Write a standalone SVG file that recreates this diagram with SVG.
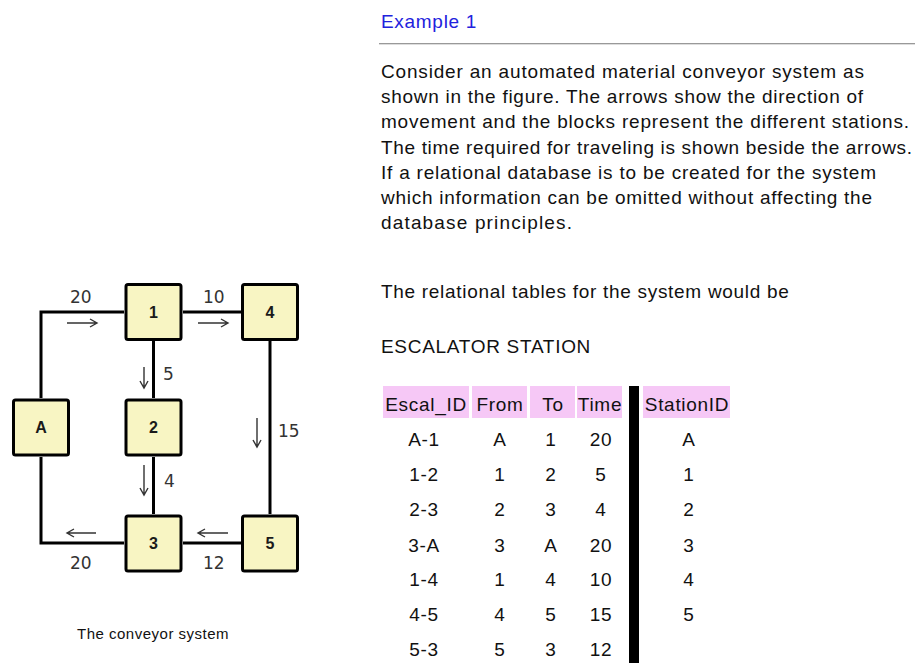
<svg xmlns="http://www.w3.org/2000/svg" width="915" height="663" viewBox="0 0 915 663">
<defs>
<style>
.box{fill:#f8f5c3;stroke:#000;stroke-width:3}
.bl{font-family:"Liberation Sans",Arial,sans-serif;font-weight:bold;font-size:16px;fill:#1a1a1a;text-anchor:middle}
.conn{fill:none;stroke:#000;stroke-width:3}
.arr{fill:none;stroke:#333;stroke-width:1.4}
.num{font-family:"DejaVu Sans",Verdana,sans-serif;font-size:17px;fill:#333}
.t{font-family:"Liberation Sans",Arial,sans-serif;font-size:19px;fill:#111;letter-spacing:0.7px}
.c{text-anchor:middle}
.hd{fill:#f6c8f6}
</style>
</defs>
<g id="connectors">
<path class="conn" d="M41 398 V312 H124"/>
<path class="conn" d="M183 312 H241"/>
<path class="conn" d="M153.5 341 V398"/>
<path class="conn" d="M153.5 457 V514"/>
<path class="conn" d="M270 341 V514"/>
<path class="conn" d="M41 457 V543 H124"/>
<path class="conn" d="M183 543 H241"/>
<path class="arr" d="M67 323 H97 M90 319 L97 323 L90 327"/>
<path class="arr" d="M198 323 H228 M221 319 L228 323 L221 327"/>
<path class="arr" d="M144 367 V388 M140 381 L144 388 L148 381"/>
<path class="arr" d="M144 465 V495 M140 488 L144 495 L148 488"/>
<path class="arr" d="M257 418 V447 M253 440 L257 447 L261 440"/>
<path class="arr" d="M67 533 H96 M74 529 L67 533 L74 537"/>
<path class="arr" d="M198 533 H228 M205 529 L198 533 L205 537"/>
<text class="num" x="70" y="303">20</text>
<text class="num" x="203" y="303">10</text>
<text class="num" x="163" y="380">5</text>
<text class="num" x="164" y="487">4</text>
<text class="num" x="278" y="437">15</text>
<text class="num" x="70" y="569">20</text>
<text class="num" x="203" y="569">12</text>
</g>
<g id="node-A"><rect class="box" x="13.5" y="400" width="55" height="55" rx="2"/><text class="bl" x="41" y="433">A</text></g>
<g id="node-1"><rect class="box" x="126" y="284.5" width="55" height="55" rx="2"/><text class="bl" x="153.5" y="318">1</text></g>
<g id="node-2"><rect class="box" x="126" y="400" width="55" height="55" rx="2"/><text class="bl" x="153.5" y="433">2</text></g>
<g id="node-3"><rect class="box" x="126" y="516" width="55" height="55" rx="2"/><text class="bl" x="153.5" y="549">3</text></g>
<g id="node-4"><rect class="box" x="242.5" y="284.5" width="55" height="55" rx="2"/><text class="bl" x="270" y="318">4</text></g>
<g id="node-5"><rect class="box" x="242.5" y="516" width="55" height="55" rx="2"/><text class="bl" x="270" y="549">5</text></g>
<text x="77" y="639" style="font-family:'Liberation Sans',Arial,sans-serif;font-size:15px;fill:#111;letter-spacing:0.5px">The conveyor system</text>

<text class="t" x="381" y="28" style="fill:#2222dd">Example 1</text>
<line x1="379" y1="43.5" x2="915" y2="43.5" stroke="#999" stroke-width="1"/>
<line x1="379" y1="44.5" x2="915" y2="44.5" stroke="#ddd" stroke-width="1"/>
<g class="t" style="letter-spacing:0">
<text x="381" y="78" textLength="483" lengthAdjust="spacing">Consider an automated material conveyor system as</text>
<text x="381" y="103" textLength="482" lengthAdjust="spacing">shown in the figure. The arrows show the direction of</text>
<text x="381" y="128" textLength="528" lengthAdjust="spacing">movement and the blocks represent the different stations.</text>
<text x="381" y="154" textLength="531" lengthAdjust="spacing">The time required for traveling is shown beside the arrows.</text>
<text x="381" y="179" textLength="495" lengthAdjust="spacing">If a relational database is to be created for the system</text>
<text x="381" y="204" textLength="491" lengthAdjust="spacing">which information can be omitted without affecting the</text>
<text x="381" y="229" textLength="191" lengthAdjust="spacing">database principles.</text>
</g>
<text class="t" x="381" y="298">The relational tables for the system would be</text>
<text class="t" x="381" y="353">ESCALATOR STATION</text>

<g id="table">
<rect class="hd" x="383" y="386" width="86" height="32"/>
<rect class="hd" x="472" y="386" width="55" height="32"/>
<rect class="hd" x="530" y="386" width="45" height="32"/>
<rect class="hd" x="577" y="386" width="45" height="32"/>
<rect class="hd" x="643" y="386" width="87" height="32"/>
<rect x="629" y="386" width="10" height="277" fill="#000"/>
<g class="t c">
<text x="426" y="411">Escal_ID</text>
<text x="500" y="411">From</text>
<text x="553" y="411">To</text>
<text x="600" y="411">Time</text>
<text x="687" y="411">StationID</text>

<text x="424" y="446">A-1</text><text x="500" y="446">A</text><text x="551" y="446">1</text><text x="601" y="446">20</text><text x="689" y="446">A</text>
<text x="424" y="481">1-2</text><text x="500" y="481">1</text><text x="551" y="481">2</text><text x="601" y="481">5</text><text x="689" y="481">1</text>
<text x="424" y="516">2-3</text><text x="500" y="516">2</text><text x="551" y="516">3</text><text x="601" y="516">4</text><text x="689" y="516">2</text>
<text x="424" y="552">3-A</text><text x="500" y="552">3</text><text x="551" y="552">A</text><text x="601" y="552">20</text><text x="689" y="552">3</text>
<text x="424" y="586">1-4</text><text x="500" y="586">1</text><text x="551" y="586">4</text><text x="601" y="586">10</text><text x="689" y="586">4</text>
<text x="424" y="621">4-5</text><text x="500" y="621">4</text><text x="551" y="621">5</text><text x="601" y="621">15</text><text x="689" y="621">5</text>
<text x="424" y="656">5-3</text><text x="500" y="656">5</text><text x="551" y="656">3</text><text x="601" y="656">12</text>
</g>
</g>
</svg>
